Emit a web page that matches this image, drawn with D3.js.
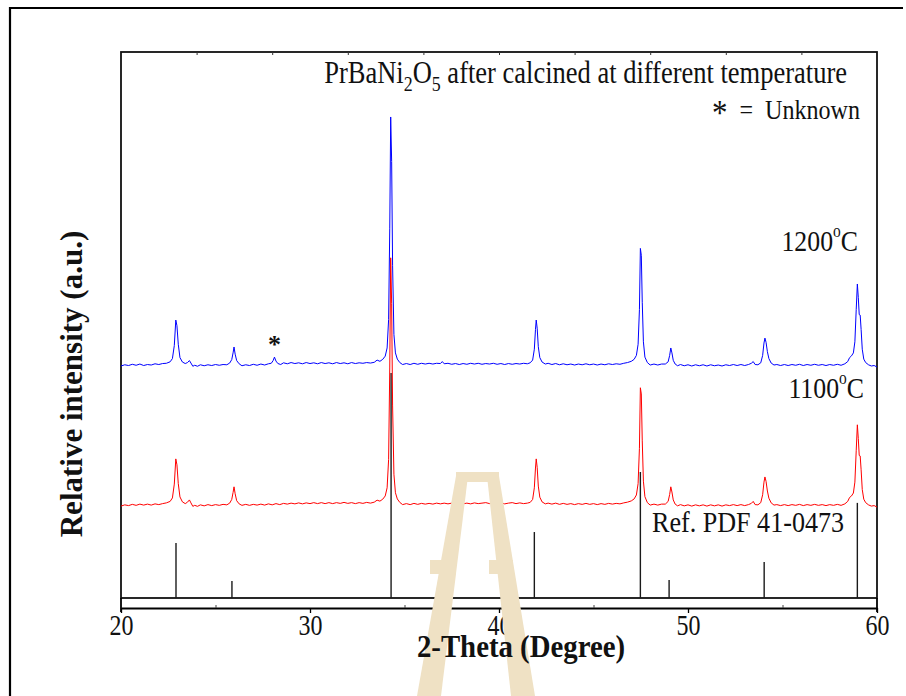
<!DOCTYPE html>
<html>
<head>
<meta charset="utf-8">
<script src="https://cdn.jsdelivr.net/npm/d3@7"></script>
<style>
  body { margin: 0; background: #fff; }
  svg { display: block; }
  text { font-family: "Liberation Serif", "Times New Roman", serif; fill: #111; }
</style>
</head>
<body>
<svg id="chart" width="906" height="696"></svg>
<script>
// x axis
const xDomain = [20, 60];
const xTickValues = [20, 30, 40, 50, 60];
const xMinorTicks = [25, 35, 45, 55];
const topTicks = [24, 28, 32, 36, 40, 44, 48, 52, 56];

// reference card PDF 41-0473 (2-theta, height in a.u.)
const refTheta = [22.91, 25.87, 34.29, 41.87, 47.48, 49.0, 54.03, 58.96];
const refHeight = [22.3, 6.9, 91.1, 26.7, 51, 7.3, 14.6, 38.5];

// vertical offsets of the stacked patterns (a.u.)
const offset1200 = 94.7;
const offset1100 = 38.1;

// 1200 C pattern: [2-theta, intensity above its baseline]
const pattern1200 = [
  [20.0,-0.8],[20.2,-0.3],[20.4,-0.6],[20.6,-0.1],[20.8,-0.5],[21.0,0.0],[21.2,-0.6],[21.4,-0.2],
  [21.6,-0.4],[21.8,0.1],[22.0,-0.2],[22.2,0.2],[22.4,0.3],[22.6,0.9],[22.72,2.2],[22.82,7.5],
  [22.9,17.8],[22.96,15.5],[23.03,8],[23.12,2.6],[23.25,0.8],[23.4,0.2],[23.52,0.6],[23.62,1.4],
  [23.7,0.4],[23.8,-0.9],[23.9,-0.5],[24.05,-0.9],[24.2,-0.3],[24.4,-0.7],[24.6,-0.3],[24.8,-0.6],
  [25.0,-0.2],[25.2,-0.5],[25.4,-0.2],[25.6,-0.3],[25.75,0.4],[25.86,1.8],[25.93,4.5],[25.98,6.9],
  [26.04,4],[26.12,1.4],[26.25,0.1],[26.4,-0.7],[26.6,-0.3],[26.8,-0.6],[27.0,-0.1],[27.2,-0.5],
  [27.4,0.0],[27.6,-0.4],[27.8,0.1],[27.95,0.3],[28.05,1.4],[28.12,2.8],[28.2,1.2],[28.3,0.2],
  [28.45,-0.2],[28.6,0.5],[28.8,0.1],[29.0,0.6],[29.2,0.2],[29.4,0.5],[29.6,0.1],[29.8,0.6],
  [30.0,0.2],[30.2,0.5],[30.4,0.1],[30.6,0.6],[30.8,0.2],[31.0,0.5],[31.2,0.1],[31.4,0.6],
  [31.6,0.2],[31.8,0.5],[32.0,0.1],[32.2,0.6],[32.4,0.2],[32.6,0.5],[32.8,0.3],[33.0,0.6],
  [33.2,0.4],[33.4,0.7],[33.55,1.6],[33.7,1.1],[33.85,1.9],[33.98,3.2],[34.08,6.5],[34.16,18],
  [34.22,55],[34.27,100],[34.32,82],[34.37,40],[34.44,12],[34.52,4.5],[34.62,2],[34.75,0.6],
  [34.9,-0.2],[35.1,0.2],[35.3,-0.2],[35.5,0.3],[35.7,-0.1],[35.9,0.3],[36.1,0.0],[36.3,0.3],
  [36.5,0.0],[36.7,0.3],[36.9,0.2],[37.0,1.0],[37.1,0.1],[37.3,0.3],[37.5,-0.1],[37.7,0.2],
  [37.9,-0.2],[38.1,0.2],[38.3,-0.1],[38.5,0.3],[38.7,0.0],[38.9,0.3],[39.1,-0.1],[39.3,0.2],
  [39.5,0.0],[39.7,0.3],[39.9,-0.1],[40.1,0.2],[40.3,-0.2],[40.5,0.2],[40.7,-0.1],[40.9,0.2],
  [41.1,0.0],[41.3,0.3],[41.5,0.1],[41.65,0.5],[41.78,1.6],[41.87,6],[41.93,14],[41.97,17.8],
  [42.02,14.5],[42.08,7],[42.16,2.6],[42.28,0.8],[42.45,0.0],[42.6,0.3],[42.8,-0.2],[43.0,0.2],
  [43.2,-0.3],[43.4,0.1],[43.6,-0.3],[43.8,0.0],[44.0,-0.4],[44.2,0.0],[44.4,-0.3],[44.6,0.1],
  [44.8,-0.3],[45.0,0.0],[45.2,-0.4],[45.4,0.0],[45.6,-0.3],[45.8,0.1],[46.0,-0.2],[46.2,0.1],
  [46.4,-0.1],[46.6,0.3],[46.8,0.6],[47.0,1.1],[47.15,1.9],[47.27,3.5],[47.36,8],[47.43,22],
  [47.48,46.8],[47.53,44],[47.58,25],[47.64,9],[47.72,2.8],[47.85,0.6],[48.0,-0.4],[48.2,0.0],
  [48.4,-0.4],[48.6,0.0],[48.8,0.0],[48.95,0.9],[49.03,3.5],[49.09,6.5],[49.15,4.5],[49.22,1.5],
  [49.32,0.0],[49.45,-0.7],[49.6,-0.2],[49.8,-0.7],[50.0,-0.3],[50.2,-0.8],[50.4,-0.3],[50.6,-0.7],
  [50.8,-0.3],[51.0,-0.8],[51.2,-0.3],[51.4,-0.7],[51.6,-0.4],[51.8,-0.8],[52.0,-0.3],[52.2,-0.6],
  [52.4,-0.2],[52.6,-0.6],[52.8,-0.2],[53.0,-0.6],[53.2,-0.2],[53.35,0.3],[53.45,1.0],[53.55,-0.2],
  [53.7,-0.3],[53.85,0.5],[53.95,3.5],[54.02,8.5],[54.07,10.5],[54.13,8.8],[54.2,5],[54.28,2.2],
  [54.4,0.4],[54.55,-0.4],[54.7,-0.2],[54.9,-0.6],[55.1,-0.2],[55.3,-0.6],[55.5,-0.2],[55.7,-0.5],
  [55.9,-0.1],[56.1,-0.6],[56.3,-0.2],[56.5,-0.5],[56.7,-0.1],[56.9,-0.5],[57.1,-0.2],[57.3,-0.6],
  [57.5,-0.2],[57.7,-0.5],[57.9,-0.1],[58.1,-0.5],[58.3,0.1],[58.45,1.0],[58.55,2.6],[58.65,3.3],
  [58.75,4.5],[58.83,9],[58.9,22],[58.96,32.4],[59.01,27],[59.06,20],[59.11,19.8],[59.16,14],
  [59.22,6],[59.3,2],[59.4,0.6],[59.55,-0.3],[59.7,-0.8],[59.85,-0.6],[60.0,-1.2]
];

// 1100 C pattern
const pattern1100 = [
  [20.0,-0.9],[20.2,-0.4],[20.4,-0.7],[20.6,-0.2],[20.8,-0.6],[21.0,-0.1],[21.2,-0.5],[21.4,-0.1],
  [21.6,-0.5],[21.8,0.0],[22.0,-0.3],[22.2,0.1],[22.4,0.4],[22.6,1.0],[22.72,2.4],[22.82,8],
  [22.9,18.2],[22.96,15.8],[23.03,8.2],[23.12,2.8],[23.25,0.8],[23.4,0.1],[23.52,0.7],[23.62,1.6],
  [23.7,0.4],[23.8,-1.0],[23.9,-0.6],[24.05,-1.0],[24.2,-0.4],[24.4,-0.8],[24.6,-0.3],[24.8,-0.7],
  [25.0,-0.3],[25.2,-0.6],[25.4,-0.2],[25.6,-0.4],[25.75,0.3],[25.86,1.8],[25.93,4.6],[25.98,6.9],
  [26.04,4.1],[26.12,1.3],[26.25,0.0],[26.4,-0.6],[26.6,-0.2],[26.8,-0.6],[27.0,-0.2],[27.2,-0.5],
  [27.4,-0.1],[27.6,-0.5],[27.8,0.0],[28.0,-0.4],[28.2,0.1],[28.4,-0.3],[28.6,0.2],[28.8,-0.1],
  [29.0,0.3],[29.2,0.0],[29.4,0.4],[29.6,0.0],[29.8,0.4],[30.0,0.1],[30.2,0.5],[30.4,0.1],
  [30.6,0.5],[30.8,0.1],[31.0,0.5],[31.2,0.1],[31.4,0.5],[31.6,0.2],[31.8,0.6],[32.0,0.2],
  [32.2,0.5],[32.4,0.1],[32.6,0.5],[32.8,0.2],[33.0,0.6],[33.2,0.3],[33.4,0.7],[33.55,1.5],
  [33.7,1.1],[33.85,1.9],[33.98,3.2],[34.08,6.5],[34.16,18],[34.22,55],[34.27,99.6],[34.32,81],
  [34.37,40],[34.44,12],[34.52,4.5],[34.62,2],[34.75,0.6],[34.9,-0.3],[35.1,0.1],[35.3,-0.3],
  [35.5,0.2],[35.7,-0.2],[35.9,0.2],[36.1,-0.1],[36.3,0.2],[36.5,-0.1],[36.7,0.3],[36.9,0.0],
  [37.1,0.3],[37.3,0.0],[37.5,0.3],[37.7,0.0],[37.9,0.3],[38.1,0.0],[38.3,0.3],[38.5,0.0],
  [38.7,0.4],[38.9,0.1],[39.1,0.3],[39.3,0.5],[39.5,0.1],[39.7,0.4],[39.9,0.0],[40.1,0.4],
  [40.3,0.0],[40.5,0.3],[40.7,0.5],[40.9,0.1],[41.1,0.4],[41.3,0.1],[41.5,0.3],[41.65,0.6],
  [41.78,1.8],[41.87,6.5],[41.93,14.5],[41.97,18.2],[42.02,14.8],[42.08,7.2],[42.16,2.7],[42.28,0.8],
  [42.45,0.0],[42.6,0.3],[42.8,-0.1],[43.0,0.3],[43.2,-0.2],[43.4,0.2],[43.6,-0.2],[43.8,0.1],
  [44.0,-0.3],[44.2,0.1],[44.4,-0.2],[44.6,0.2],[44.8,-0.2],[45.0,0.1],[45.2,-0.3],[45.4,0.1],
  [45.6,-0.2],[45.8,0.2],[46.0,-0.1],[46.2,0.2],[46.4,0.0],[46.6,0.4],[46.8,0.7],[47.0,1.2],
  [47.15,2.0],[47.27,3.6],[47.36,8.2],[47.43,22.5],[47.48,47],[47.53,44.5],[47.58,25.5],[47.64,9.2],
  [47.72,2.9],[47.85,0.5],[48.0,-0.5],[48.2,-0.1],[48.4,-0.5],[48.6,-0.1],[48.8,-0.1],[48.95,1.0],
  [49.03,3.8],[49.09,6.9],[49.15,4.8],[49.22,1.6],[49.32,-0.1],[49.45,-0.8],[49.6,-0.3],[49.8,-0.8],
  [50.0,-0.4],[50.2,-0.9],[50.4,-0.4],[50.6,-0.8],[50.8,-0.4],[51.0,-0.9],[51.2,-0.4],[51.4,-0.8],
  [51.6,-0.4],[51.8,-0.9],[52.0,-0.4],[52.2,-0.7],[52.4,-0.3],[52.6,-0.7],[52.8,-0.3],[53.0,-0.7],
  [53.2,-0.3],[53.35,0.2],[53.45,1.0],[53.55,-0.3],[53.7,-0.4],[53.85,0.5],[53.95,3.7],[54.02,8.8],
  [54.07,10.9],[54.13,9.1],[54.2,5.2],[54.28,2.3],[54.4,0.4],[54.55,-0.5],[54.7,-0.3],[54.9,-0.7],
  [55.1,-0.3],[55.3,-0.7],[55.5,-0.3],[55.7,-0.6],[55.9,-0.2],[56.1,-0.7],[56.3,-0.3],[56.5,-0.6],
  [56.7,-0.2],[56.9,-0.6],[57.1,-0.3],[57.3,-0.7],[57.5,-0.3],[57.7,-0.6],[57.9,-0.2],[58.1,-0.6],
  [58.3,0.0],[58.45,1.0],[58.55,2.6],[58.65,3.2],[58.75,4.4],[58.83,8.8],[58.9,21.5],[58.96,32],
  [59.01,26.5],[59.06,19.6],[59.11,19.4],[59.16,13.8],[59.22,5.8],[59.3,1.9],[59.4,0.5],[59.55,-0.4],
  [59.7,-0.9],[59.85,-0.7],[60.0,-1.3]
];

const svg = d3.select("#chart");
const plot = {left: 121, right: 877, top: 52, bottom: 598, axisY: 608};

const x = d3.scaleLinear().domain(xDomain).range([plot.left, plot.right]);
const y = d3.scaleLinear().domain([0, 221]).range([plot.bottom, plot.top]);

// outer frame (only top and left edges fall inside the picture)
svg.append("path")
    .attr("d", "M10,720 L10,8 L903,8")
    .attr("fill", "none")
    .attr("stroke", "#000")
    .attr("stroke-width", 2.2);

// plot box
svg.append("rect")
    .attr("x", plot.left).attr("y", plot.top)
    .attr("width", plot.right - plot.left)
    .attr("height", plot.bottom - plot.top)
    .attr("fill", "none")
    .attr("stroke", "#111")
    .attr("stroke-width", 1.8);

// top ticks
svg.append("g")
    .attr("transform", `translate(0,${plot.top})`)
    .call(d3.axisBottom(x).tickValues(topTicks).tickSize(3).tickFormat(""))
    .call(g => g.select(".domain").remove())
    .selectAll("line").attr("stroke", "#333");

// x axis (separate baseline under the box)
const xAxis = svg.append("g")
    .attr("transform", `translate(0,${plot.axisY})`)
    .call(d3.axisBottom(x).tickValues(xTickValues).tickSize(5).tickSizeOuter(0).tickPadding(1));
xAxis.select(".domain").attr("stroke", "#000").attr("stroke-width", 2.2);
xAxis.selectAll(".tick line").attr("stroke", "#000").attr("stroke-width", 1.3);
xAxis.selectAll(".tick text")
    .attr("font-size", 30)
    .attr("fill", "#111")
    .attr("transform", "scale(0.8,1)");

svg.append("g")
    .attr("transform", `translate(0,${plot.axisY})`)
    .call(d3.axisTop(x).tickValues(xMinorTicks).tickSize(3).tickFormat(""))
    .call(g => g.select(".domain").remove())
    .selectAll("line").attr("stroke", "#444");

// side walls of the strip between box and axis
svg.selectAll(".wall")
    .data(xDomain)
    .join("line")
    .attr("x1", d => x(d)).attr("x2", d => x(d))
    .attr("y1", plot.bottom).attr("y2", plot.axisY + 4)
    .attr("stroke", "#000").attr("stroke-width", 1.8);

// reference sticks
svg.append("g")
    .selectAll("line")
    .data(refTheta)
    .join("line")
    .attr("x1", d => x(d)).attr("x2", d => x(d))
    .attr("y1", y(0))
    .attr("y2", (d, i) => y(refHeight[i]))
    .attr("stroke", "#1a1a1a")
    .attr("stroke-width", 1.4);

// stacked patterns
const line = (off) => d3.line()
    .x(d => x(d[0]))
    .y(d => y(d[1] + off));

svg.append("path")
    .datum(pattern1100)
    .attr("fill", "none")
    .attr("stroke", "#ff0000")
    .attr("stroke-width", 1)
    .attr("d", line(offset1100));

svg.append("path")
    .datum(pattern1200)
    .attr("fill", "none")
    .attr("stroke", "#0000ff")
    .attr("stroke-width", 1)
    .attr("d", line(offset1200));

// watermark (faint logo in the background of the scan)
const wm = svg.append("g").attr("fill", "#efe1c4");
wm.append("path").attr("d", "M456,476 L468,476 L441,696 L417,696 Z");
wm.append("path").attr("d", "M487,476 L499,476 L535,696 L511,696 Z");
wm.append("path").attr("d", "M456,472 L499,472 L499,482 L456,482 Z");
wm.append("path").attr("d", "M430,560 L456,560 L456,574 L430,574 Z");
wm.append("path").attr("d", "M489,560 L513,560 L513,574 L489,574 Z");

// condensed text helper: the original lettering is narrow and tall
function label(xp, yp, anchor, size, sx) {
    return svg.append("g")
        .attr("transform", `translate(${xp},${yp}) scale(${sx},1)`)
        .append("text")
        .attr("text-anchor", anchor)
        .attr("font-size", size);
}

const title = label(847, 83, "end", 31, 0.855);
title.append("tspan").text("PrBaNi");
title.append("tspan").attr("font-size", 21).attr("dy", 8).text("2");
title.append("tspan").attr("dy", -8).text("O");
title.append("tspan").attr("font-size", 21).attr("dy", 8).text("5");
title.append("tspan").attr("dy", -8).text(" after calcined at different temperature");

const legend = label(860, 119, "end", 28, 0.86);
legend.append("tspan").attr("font-size", 36).attr("dy", 6).text("*");
legend.append("tspan").attr("dy", -6).text("\u00a0\u00a0=\u00a0\u00a0Unknown");

function tempLabel(xr, yb, num) {
    const t = label(xr, yb, "end", 30, 0.86);
    t.append("tspan").text(num);
    t.append("tspan").attr("font-size", 18).attr("dy", -14).text("o");
    t.append("tspan").attr("dy", 14).text("C");
}
tempLabel(858, 251, "1200");
tempLabel(864, 398, "1100");

label(652, 532, "start", 29, 0.9).text("Ref. PDF 41-0473");

// unknown-phase marker above the 28.1 deg bump
svg.append("text")
    .attr("x", x(28.12)).attr("y", y(offset1200 + 2.8) - 6)
    .attr("text-anchor", "middle")
    .attr("font-size", 26)
    .attr("font-weight", "bold")
    .attr("font-family", "DejaVu Sans, sans-serif")
    .attr("dy", "0.55em")
    .attr("transform", `translate(0,-12)`)
    .text("*");

// axis titles
label(521, 657, "middle", 32, 0.9)
    .attr("font-weight", "bold")
    .text("2-Theta (Degree)");

svg.append("text")
    .attr("transform", `translate(82,384) rotate(-90)`)
    .attr("text-anchor", "middle")
    .attr("font-size", 31)
    .attr("font-weight", "bold")
    .text("Relative intensity (a.u.)");
</script>
</body>
</html>
